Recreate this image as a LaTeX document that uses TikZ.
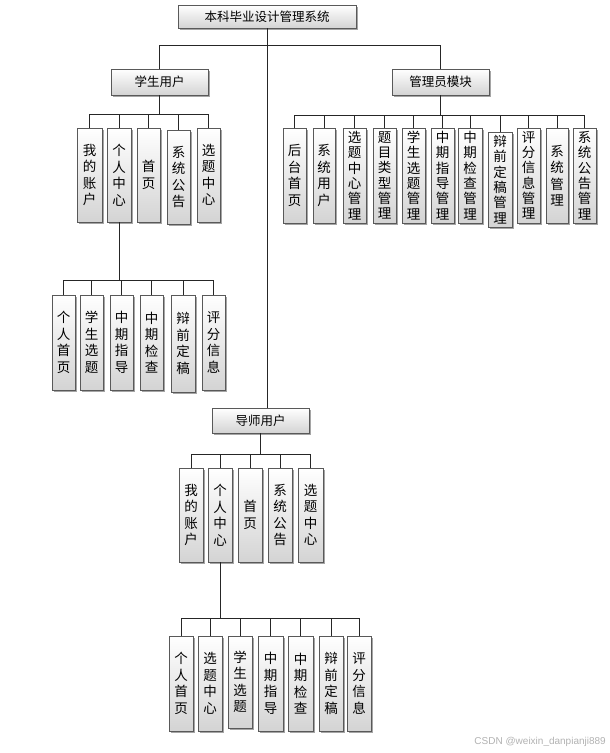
\documentclass[tikz,border=0pt]{standalone}
\usepackage{fontspec}
\setmainfont{Noto Sans CJK SC}
\newfontfamily\wmfont{Liberation Sans}
\usetikzlibrary{shadows}
\tikzset{
  x=1pt, y=-1pt,
  bx/.style={draw=black!65, line width=0.8pt, top color=white, bottom color=black!17,
    drop shadow={shadow xshift=1.6pt, shadow yshift=-1.6pt, fill=black!50, opacity=0.7},
    inner sep=0pt, align=center, font=\fontsize{12.5}{15}\selectfont},
  vf/.style={font=\fontsize{13.5}{16.5}\selectfont},
  vfs/.style={font=\fontsize{13.5}{15.3}\selectfont},
  ln/.style={draw=black!85, line width=0.9pt},
  wmark/.style={font=\wmfont\fontsize{10}{12}\selectfont, text=black!30, anchor=east, inner sep=0pt}
}
\newcommand\mkbx[7][]{\node[bx, #1, minimum width={#4-#3}, minimum height={#6-#5}] (#2) at ({(#3+#4)/2},{(#5+#6)/2}) {#7};}
\begin{document}
\begin{tikzpicture}
\fill[white] (0,0) rectangle (610,753);
\useasboundingbox (0,0) rectangle (610,753);
% top levels
\mkbx{title}{178}{356}{5}{28}{本科毕业设计管理系统}
\mkbx{stu}{111}{208}{69}{95}{学生用户}
\mkbx{adm}{392}{489}{69}{95}{管理员模块}
\mkbx{tea}{212}{309}{408}{433}{导师用户}
% student children
\mkbx[vf]{s1}{77}{102}{128}{222}{我\\的\\账\\户}
\mkbx[vf]{s2}{107}{131}{128}{222}{个\\人\\中\\心}
\mkbx[vf]{s3}{137}{160}{128}{222}{首\\页}
\mkbx[vf]{s4}{167}{190}{130}{224}{系\\统\\公\\告}
\mkbx[vf]{s5}{197}{220}{128}{222}{选\\题\\中\\心}
% student sub
\mkbx[vf]{ss1}{52}{75}{295}{390}{个\\人\\首\\页}
\mkbx[vf]{ss2}{80}{103}{295}{390}{学\\生\\选\\题}
\mkbx[vf]{ss3}{110}{133}{295}{390}{中\\期\\指\\导}
\mkbx[vf]{ss4}{140}{163}{295}{390}{中\\期\\检\\查}
\mkbx[vf]{ss5}{171}{195}{295}{392}{辩\\前\\定\\稿}
\mkbx[vf]{ss6}{202}{225}{295}{390}{评\\分\\信\\息}
% admin children
\mkbx[vf]{a1}{283}{306}{128}{223}{后\\台\\首\\页}
\mkbx[vf]{a2}{313}{335}{128}{223}{系\\统\\用\\户}
\mkbx[vfs]{a3}{343}{366}{128}{223}{选\\题\\中\\心\\管\\理}
\mkbx[vfs]{a4}{373}{396}{128}{223}{题\\目\\类\\型\\管\\理}
\mkbx[vfs]{a5}{402}{425}{128}{223}{学\\生\\选\\题\\管\\理}
\mkbx[vfs]{a6}{431}{454}{128}{223}{中\\期\\指\\导\\管\\理}
\mkbx[vfs]{a7}{458}{482}{128}{223}{中\\期\\检\\查\\管\\理}
\mkbx[vfs]{a8}{488}{512}{132}{227}{辩\\前\\定\\稿\\管\\理}
\mkbx[vfs]{a9}{517}{540}{128}{223}{评\\分\\信\\息\\管\\理}
\mkbx[vf]{a10}{546}{568}{128}{223}{系\\统\\管\\理}
\mkbx[vfs]{a11}{573}{596}{128}{223}{系\\统\\公\\告\\管\\理}
% teacher children
\mkbx[vf]{t1}{179}{203}{468}{562}{我\\的\\账\\户}
\mkbx[vf]{t2}{208}{232}{468}{562}{个\\人\\中\\心}
\mkbx[vf]{t3}{238}{262}{468}{562}{首\\页}
\mkbx[vf]{t4}{268}{292}{468}{562}{系\\统\\公\\告}
\mkbx[vf]{t5}{298}{323}{468}{562}{选\\题\\中\\心}
% teacher sub
\mkbx[vf]{tt1}{169}{193}{636}{731}{个\\人\\首\\页}
\mkbx[vf]{tt2}{198}{222}{636}{731}{选\\题\\中\\心}
\mkbx[vf]{tt3}{228}{252}{636}{728}{学\\生\\选\\题}
\mkbx[vf]{tt4}{258}{283}{636}{731}{中\\期\\指\\导}
\mkbx[vf]{tt5}{288}{313}{636}{731}{中\\期\\检\\查}
\mkbx[vf]{tt6}{319}{343}{636}{731}{辩\\前\\定\\稿}
\mkbx[vf]{tt7}{347}{371}{636}{731}{评\\分\\信\\息}
% bus coordinates
\coordinate (busT) at (0,45);
\coordinate (busS) at (0,114);
\coordinate (busA) at (0,115);
\coordinate (busSS) at (0,280);
\coordinate (busTe) at (0,454);
\coordinate (busTT) at (0,618);
% connectors: top
\draw[ln] (title.south) -- (title.south |- tea.north);
\draw[ln] (stu.north |- busT) -- (adm.north |- busT);
\draw[ln] (stu.north) -- (stu.north |- busT);
\draw[ln] (adm.north) -- (adm.north |- busT);
% student
\draw[ln] (stu.south) -- (stu.south |- busS);
\draw[ln] (s1.north |- busS) -- (s5.north |- busS);
\foreach \c in {s1,s2,s3,s4,s5} \draw[ln] (\c.north) -- (\c.north |- busS);
\draw[ln] (s2.south) -- (s2.south |- busSS);
\draw[ln] (ss1.north |- busSS) -- (ss6.north |- busSS);
\foreach \c in {ss1,ss2,ss3,ss4,ss5,ss6} \draw[ln] (\c.north) -- (\c.north |- busSS);
% admin
\draw[ln] (adm.south) -- (adm.south |- busA);
\draw[ln] (a1.north |- busA) -- (a11.north |- busA);
\foreach \c in {a1,a2,a3,a4,a5,a6,a7,a8,a9,a10,a11} \draw[ln] (\c.north) -- (\c.north |- busA);
% teacher
\draw[ln] (tea.south) -- (tea.south |- busTe);
\draw[ln] (t1.north |- busTe) -- (t5.north |- busTe);
\foreach \c in {t1,t2,t3,t4,t5} \draw[ln] (\c.north) -- (\c.north |- busTe);
\draw[ln] (t2.south) -- (t2.south |- busTT);
\draw[ln] (tt1.north |- busTT) -- (tt7.north |- busTT);
\foreach \c in {tt1,tt2,tt3,tt4,tt5,tt6,tt7} \draw[ln] (\c.north) -- (\c.north |- busTT);
% watermark
\node[wmark] (wm) at (606,742) {CSDN @weixin\_danpianji889};
\end{tikzpicture}
\end{document}
